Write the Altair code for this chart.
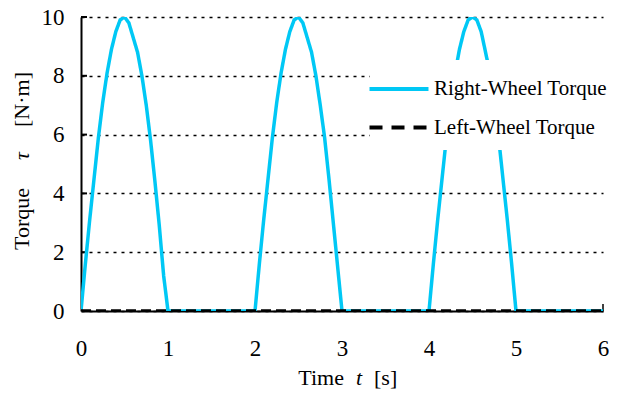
import altair as alt
import pandas as pd

# Right-wheel torque samples
t_right = [0.0, 0.05, 0.1, 0.15, 0.2, 0.25, 0.3, 0.35, 0.4, 0.45, 0.5,
           0.55, 0.6, 0.65, 0.7, 0.75, 0.8, 0.85, 0.9, 0.95, 1.0,
           1.5, 2.0,
           2.0, 2.05, 2.1, 2.15, 2.2, 2.25, 2.3, 2.35, 2.4, 2.45, 2.5,
           2.55, 2.6, 2.65, 2.7, 2.75, 2.8, 2.85, 2.9, 2.95, 3.0,
           3.5, 4.0,
           4.0, 4.05, 4.1, 4.15, 4.2, 4.25, 4.3, 4.35, 4.4, 4.45, 4.5,
           4.55, 4.6, 4.65, 4.7, 4.75, 4.8, 4.85, 4.9, 4.95, 5.0,
           5.5, 6.0]
tau_right = [0.0, 1.6, 3.1, 4.5, 5.9, 7.1, 8.1, 8.9, 9.5, 9.9, 10.0,
             9.8, 9.3, 8.8, 8.0, 7.0, 5.8, 4.4, 2.9, 1.2, 0.0,
             0.0, 0.0,
             0.0, 1.6, 3.1, 4.5, 5.9, 7.1, 8.1, 8.9, 9.5, 9.9, 10.0,
             9.8, 9.3, 8.8, 8.0, 7.0, 5.9, 4.5, 3.0, 1.5, 0.0,
             0.0, 0.0,
             0.0, 1.6, 3.1, 4.5, 5.9, 7.1, 8.1, 8.9, 9.5, 9.9, 10.0,
             9.9, 9.5, 8.8, 8.1, 7.1, 5.9, 4.5, 3.1, 1.6, 0.0,
             0.0, 0.0]

# Left-wheel torque samples
t_left = [0.0, 6.0]
tau_left = [0.0, 0.0]

series_names = ["Right-Wheel Torque", "Left-Wheel Torque"]
series_colors = ["#00C8F5", "#000000"]

x_ticks = [0, 1, 2, 3, 4, 5, 6]
y_ticks = [0, 2, 4, 6, 8, 10]

# axis-title pieces (plain, italic symbol, plain)
x_title_parts = ["Time", "t", "[s]"]
y_title_parts = ["Torque", "τ", "[N·m]"]

df_r = pd.DataFrame({"t": t_right, "tau": tau_right, "series": series_names[0],
                     "order": range(len(t_right))})
df_l = pd.DataFrame({"t": t_left, "tau": tau_left, "series": series_names[1],
                     "order": range(len(t_left))})
df_yt = pd.DataFrame({"tau": y_ticks[1:]})
df_xt = pd.DataFrame({"t": [x_ticks[-1]]})

FONT = "Liberation Serif"
W, H = 522, 294

x_enc = alt.X("t:Q", scale=alt.Scale(domain=[0, 6], nice=False),
              axis=alt.Axis(title=None, values=x_ticks, grid=False, labelFlush=False,
                            ticks=False, labelPadding=26, format="d"))
y_enc = alt.Y("tau:Q", scale=alt.Scale(domain=[0, 10], nice=False),
              axis=alt.Axis(title=None, values=y_ticks, grid=True,
                            ticks=False, labelPadding=17,
                            gridDash=[3, 5], gridColor="#000000", gridWidth=1.7, gridOpacity=1))

# right wheel line (carries the legend for both series)
right = alt.Chart(df_r).mark_line(strokeWidth=3.5, clip=True).encode(
    x=x_enc,
    y=y_enc,
    color=alt.Color("series:N", scale=alt.Scale(domain=series_names, range=series_colors),
                    sort=series_names,
                    legend=alt.Legend(title=None, orient="none", legendX=289, legendY=43,
                                      symbolType="M-2,0L2,0", symbolSize=870, symbolStrokeWidth=4,
                                      labelFont=FONT, labelFontSize=21, labelColor="#000000",
                                      labelLimit=400, rowPadding=11.5, padding=12,
                                      fillColor="#FFFFFF", labelOffset=18)),
    strokeDash=alt.StrokeDash("series:N", scale=alt.Scale(domain=series_names, range=[[1, 0], [13, 9]]),
                              sort=series_names, legend=None),
    order="order:Q",
)

# left wheel line drawn on top, dashed
left = alt.Chart(df_l).mark_line(strokeWidth=3.5, color="#000000", strokeDash=[10, 5], clip=True).encode(
    x="t:Q", y="tau:Q", order="order:Q")

# inward ticks on the y axis
yticks = alt.Chart(df_yt).mark_rule(color="#000000", strokeWidth=2).encode(
    y="tau:Q", x=alt.value(0), x2=alt.value(6))
# small tick at the right end of the x axis
xtick = alt.Chart(df_xt).mark_rule(color="#000000", strokeWidth=1.5).encode(
    x="t:Q", y=alt.value(H), y2=alt.value(H - 7))


def title_piece(text, x, y, align, italic=False, angle=0):
    return alt.Chart(pd.DataFrame({"s": [text]})).mark_text(
        font=FONT, fontSize=22, color="#000000", align=align, baseline="alphabetic",
        fontStyle="italic" if italic else "normal", angle=angle,
    ).encode(text="s:N", x=alt.value(x), y=alt.value(y))


xb = H + 74
x_title = [
    title_piece(x_title_parts[0], 263, xb, "right"),
    title_piece(x_title_parts[1], 278, xb, "center", italic=True),
    title_piece(x_title_parts[2], 293, xb, "left"),
]
yb = -52
y_title = [
    title_piece(y_title_parts[0], yb, 233, "left", angle=270),
    title_piece(y_title_parts[1], yb, 139, "center", italic=True, angle=270),
    title_piece(y_title_parts[2], yb, 55, "right", angle=270),
]

chart = alt.layer(yticks, xtick, right, left, *x_title, *y_title).properties(
    width=W, height=H,
    autosize=alt.AutoSizeParams(type="none"),
    padding={"left": 73, "top": 9, "right": 6, "bottom": 79},
).configure_view(stroke=None).configure_axis(
    labelFont=FONT, labelFontSize=23,
    labelColor="#000000",
    domainColor="#000000", domainWidth=2,
)

chart.save("out.html", embed_options={"renderer": "svg", "actions": False})
